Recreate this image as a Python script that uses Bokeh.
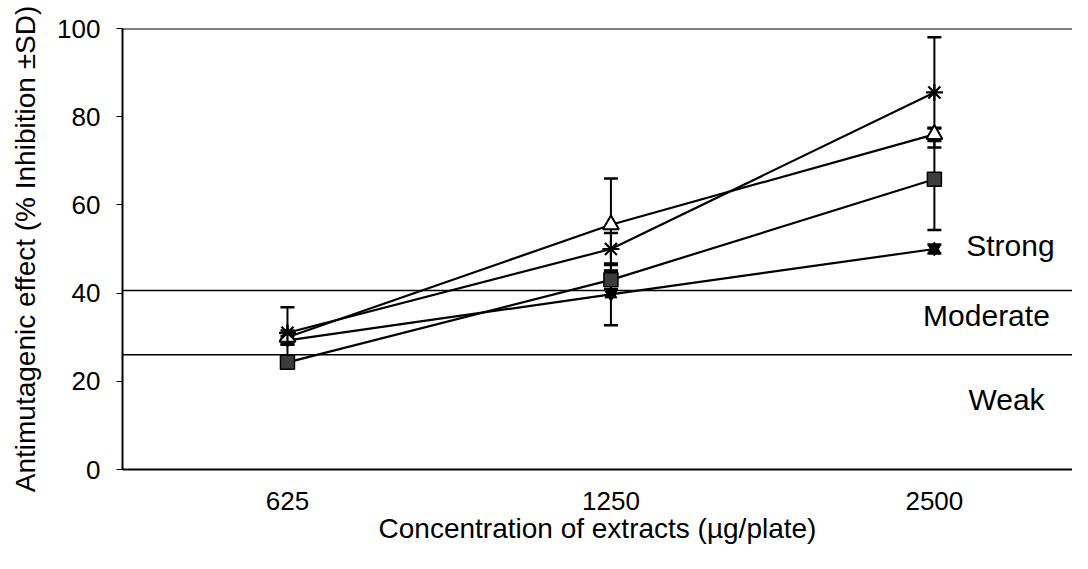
from bokeh.plotting import figure
from bokeh.models import Range1d, FixedTicker, Whisker, TeeHead, ColumnDataSource, Span
from bokeh.core.properties import value
from bokeh.embed import file_html
from bokeh.resources import INLINE

# ---- data ----
concentrations = ["625", "1250", "2500"]
asterisk_mean = [31.0, 50.0, 85.5]
asterisk_sd = [5.8, 3.6, 12.5]
triangle_mean = [30.0, 55.5, 76.0]
triangle_sd = [1.5, 10.5, 1.5]
square_mean = [24.3, 43.0, 65.8]
square_sd = [1.0, 2.1, 11.5]
filled_mean = [29.3, 39.7, 50.0]
filled_sd = [1.0, 7.0, 1.0]
thresholds = [40.6, 26.0]
band_labels = ["Strong", "Moderate", "Weak"]
band_label_y = [50.8, 34.9, 15.9]
band_label_x = [3.235, 3.161, 3.223]
y_ticks = [0, 20, 40, 60, 80, 100]

FONT = "Liberation Sans"
xs = list(range(1, len(concentrations) + 1))

p = figure(width=1072, height=553, output_backend="svg", toolbar_location=None,
           x_range=Range1d(0.49, 3.427), y_range=Range1d(0, 100),
           min_border_left=122, min_border_right=0, min_border_top=28, min_border_bottom=84)
p.outline_line_color = None
p.xgrid.visible = False
p.ygrid.visible = False
p.background_fill_color = "white"
p.border_fill_color = "white"

# axes
p.xaxis.ticker = FixedTicker(ticks=xs)
p.xaxis.major_label_overrides = {i: c for i, c in zip(xs, concentrations)}
p.xaxis.major_tick_out = 0
p.xaxis.major_tick_in = 0
p.xaxis.minor_tick_out = 0
p.xaxis.minor_tick_in = 0
p.xaxis.major_label_standoff = 22
p.xaxis.axis_label = "Concentration of extracts (µg/plate)"
p.xaxis.axis_label_standoff = 0

p.yaxis.ticker = FixedTicker(ticks=y_ticks)
p.yaxis.major_tick_out = 6
p.yaxis.major_tick_in = 0
p.yaxis.minor_tick_out = 0
p.yaxis.minor_tick_in = 0
p.yaxis.major_label_standoff = 16
p.yaxis.axis_label = "Antimutagenic effect (% Inhibition ±SD)"
p.yaxis.axis_label_standoff = 13

for ax in (p.xaxis[0], p.yaxis[0]):
    ax.axis_line_width = 2
    ax.axis_line_color = "black"
    ax.major_tick_line_width = 1
    ax.major_label_text_font = FONT
    ax.major_label_text_font_size = "26px"
    ax.major_label_text_color = "black"
    ax.axis_label_text_font = FONT
    ax.axis_label_text_font_style = "normal"
    ax.axis_label_text_color = "black"
p.xaxis.axis_label_text_font_size = "28px"
p.yaxis.axis_label_text_font_size = "28px"

# top border and threshold lines
p.add_layout(Span(location=100, dimension="width", line_color="black", line_width=2))
for t in thresholds:
    p.add_layout(Span(location=t, dimension="width", line_color="black", line_width=1.5))

series = [
    (filled_mean, filled_sd),
    (square_mean, square_sd),
    (triangle_mean, triangle_sd),
    (asterisk_mean, asterisk_sd),
]

for mean, sd in series:
    src = ColumnDataSource(dict(x=xs, y=mean,
                                lo=[m - s for m, s in zip(mean, sd)],
                                hi=[m + s for m, s in zip(mean, sd)]))
    w = Whisker(source=src, base="x", upper="hi", lower="lo", line_width=2, line_color="black",
                upper_head=TeeHead(size=14, line_width=2.5, line_color="black"),
                lower_head=TeeHead(size=14, line_width=2.5, line_color="black"))
    p.add_layout(w)

# lines
for mean, sd in series:
    p.line(xs, mean, line_color="black", line_width=2.2)

# markers
p.scatter(xs, filled_mean, marker="triangle", size=12, fill_color="black", line_color="black")
p.scatter(xs, filled_mean, marker="inverted_triangle", size=12, fill_color="black", line_color="black")
p.scatter(xs, square_mean, marker="square", size=14, fill_color="#3c3c3c", line_color="black", line_width=1.5)
p.scatter(xs, triangle_mean, marker="triangle", size=16, fill_color="white", line_color="black", line_width=2)
p.scatter(xs, asterisk_mean, marker="asterisk", size=17, line_color="black", line_width=2.2)

# band labels
p.text(x=band_label_x, y=band_label_y, text=band_labels, text_align="center", text_baseline="middle",
       text_font=value(FONT), text_font_size="30px", text_color="black")

open("out.html", "w").write(file_html(p, INLINE))
